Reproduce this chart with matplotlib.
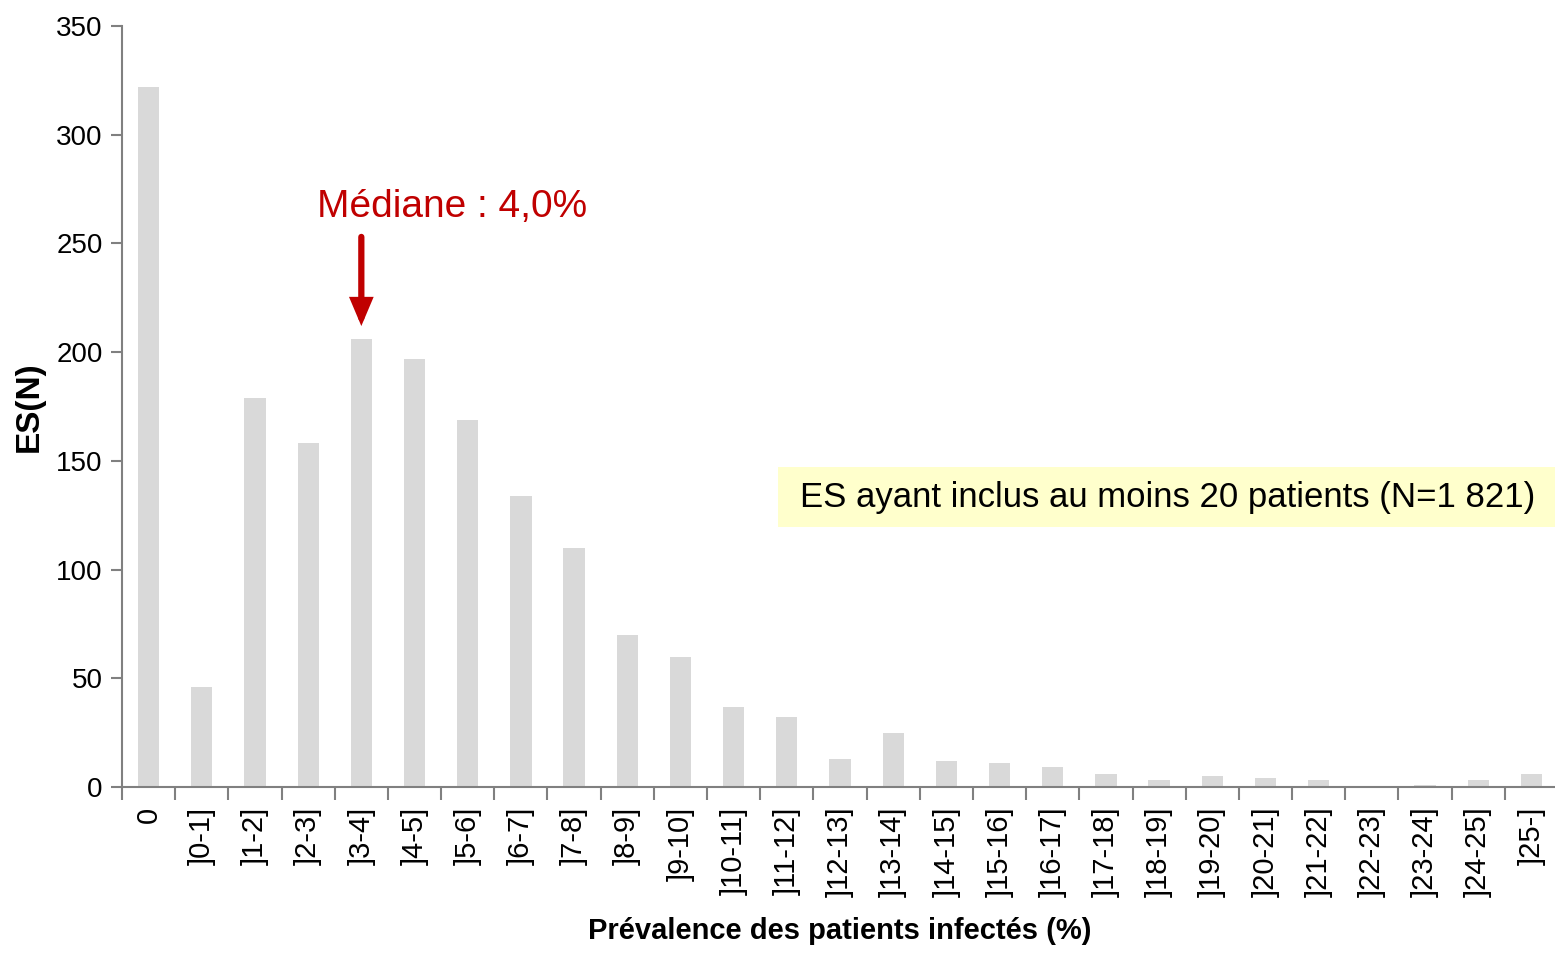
import matplotlib.pyplot as plt
import matplotlib.patches as mpatches
import numpy as np

categories = ['0', ']0-1]', ']1-2]', ']2-3]', ']3-4]', ']4-5]', ']5-6]', ']6-7]',
              ']7-8]', ']8-9]', ']9-10]', ']10-11]', ']11-12]', ']12-13]', ']13-14]',
              ']14-15]', ']15-16]', ']16-17]', ']17-18]', ']18-19]', ']19-20]',
              ']20-21]', ']21-22]', ']22-23]', ']23-24]', ']24-25]', ']25-]']
counts = [322, 46, 179, 158, 206, 197, 169, 134, 110, 70, 60, 37, 32, 13, 25,
          12, 11, 9, 6, 3, 5, 4, 3, 0, 1, 3, 6]
yticks = [0, 50, 100, 150, 200, 250, 300, 350]

median_idx = 4
median_label = 'Médiane : 4,0%'
box_label = 'ES ayant inclus au moins 20 patients (N=1 821)'

plt.rcParams['font.family'] = ['Liberation Sans Narrow', 'Liberation Sans', 'DejaVu Sans']

fig = plt.figure(figsize=(15.55, 9.57), dpi=100)
ax = fig.add_axes([122 / 1555, 1 - 787 / 957, 1436 / 1555, 761 / 957])

x = np.arange(len(categories))
ax.bar(x, counts, width=0.4, color='#d9d9d9', zorder=2)

ax.set_xlim(-0.5, len(categories) - 0.5)
ax.set_ylim(0, 350)
ax.set_yticks(yticks)
ax.set_yticklabels([str(v) for v in yticks], fontsize=20)
ax.set_xticks(x)
ax.set_xticklabels(categories, rotation=90, fontsize=21)
ax.tick_params(axis='x', length=0, pad=14)
ax.set_xticks(np.arange(-0.5, len(categories), 1), minor=True)
ax.tick_params(axis='x', which='minor', length=9, width=1.5, color='#808080', direction='out')
ax.tick_params(axis='y', length=8, width=1.5, color='#808080', direction='out', pad=6)

for s in ['top', 'right']:
    ax.spines[s].set_visible(False)
for s in ['left', 'bottom']:
    ax.spines[s].set_color('#808080')
    ax.spines[s].set_linewidth(1.5)

ax.set_ylabel('ES(N)', fontsize=24, fontweight='bold', labelpad=8)
ax.set_xlabel('Prévalence des patients infectés (%)', fontsize=21, fontweight='bold', labelpad=14)

# fleche de la mediane
ax.annotate('', xy=(median_idx, 212), xytext=(median_idx, 253),
            arrowprops=dict(arrowstyle='-|>,head_length=1.3,head_width=0.55',
                            color='#c00000', lw=4.5, shrinkA=0, shrinkB=0,
                            joinstyle='miter'))
ax.text(median_idx + 1.7, 262, median_label, color='#c00000', fontsize=28,
        ha='center', va='baseline')

fig.add_artist(mpatches.Rectangle((778 / 1555, 1 - 527 / 957), 1 - 778 / 1555, 60 / 957,
                                  transform=fig.transFigure, facecolor='#ffffcc',
                                  edgecolor='none'))
fig.text(800 / 1555, 1 - 497 / 957, box_label, fontsize=25, ha='left', va='center')

fig.savefig('out.png', dpi=100)
